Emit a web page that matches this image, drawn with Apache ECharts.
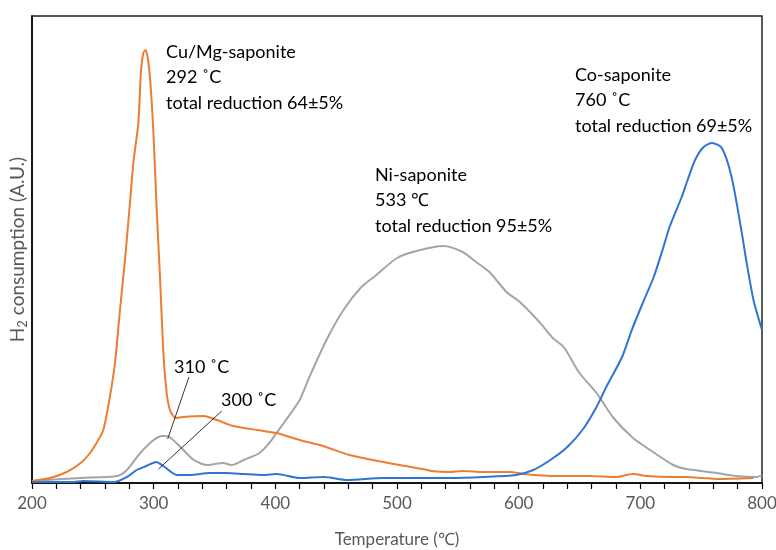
<!DOCTYPE html>
<html>
<head>
<meta charset="utf-8">
<script src="https://cdn.jsdelivr.net/npm/echarts@6/dist/echarts.min.js"></script>
<style>html,body{margin:0;padding:0;background:#fff}#c{width:776px;height:550px}</style>
</head>
<body>
<div id="c"></div>
<script>
// X-axis tick labels
const xTicks = [200, 300, 400, 500, 600, 700, 800];

// Cu/Mg-saponite (orange)
const cuTemp = [200, 215, 228.5, 240, 247.7, 253, 258.6, 264, 268.2, 272.3, 276.4, 280.5, 283.3, 287.4, 289.5, 291.5, 293.4, 296.4, 299.7, 302.5, 305.2, 308, 310.7, 313.4, 318, 324, 341, 352, 365.5, 385, 401, 420, 439, 461, 480, 502, 521, 528, 543, 554, 571, 593, 604, 631, 658, 680, 694, 705, 727, 738, 751, 763, 793];
const cuVal  = [2, 5, 11, 20, 30, 40, 53, 86, 120, 173, 223, 280, 320, 360, 410, 430, 433, 413, 353, 273, 206, 130, 90, 73, 65, 66, 67, 63, 57, 53, 50, 43, 37, 28, 23, 18, 14, 12, 11, 12, 11, 11, 9, 7, 7, 6, 9, 7, 6, 6, 5, 4, 5];

// Ni-saponite (gray)
const niTemp = [200, 240, 270, 278, 289, 300, 307, 313, 322, 333, 344, 357, 364, 374, 387, 395, 401, 407, 420, 428, 442, 456, 470, 483, 500, 516, 538, 554, 565, 576, 590, 601, 617, 628, 637, 650, 664, 678, 694, 708, 727, 738, 763, 779, 796, 800];
const niVal  = [2, 5, 7, 13, 30, 43, 47, 46, 36, 23, 18, 20, 18, 23, 30, 40, 50, 60, 83, 106, 143, 173, 195, 208, 225, 232, 237, 231, 221, 211, 191, 181, 161, 145, 136, 110, 90, 65, 45, 33, 18, 14, 10, 7, 6, 8];

// Co-saponite (blue)
const coTemp = [200, 234, 242, 268, 278, 286, 294, 302, 309, 319, 330, 346, 360, 374, 390, 401, 420, 440, 459, 489, 543, 571, 598, 612, 626, 640, 653, 664, 672, 685, 693, 702, 711, 719, 724, 734, 738, 745, 752, 759, 767, 775, 783, 787, 793, 800];
const coVal  = [1, 1, 2, 1, 6, 13, 17, 21, 16, 8, 8, 10, 10, 9, 8, 9, 5, 6, 3, 5, 5, 6, 8, 13, 23, 36, 54, 76, 96, 126, 153, 180, 206, 236, 256, 286, 300, 323, 336, 340, 335, 306, 253, 223, 183, 153];

// Annotation texts
const cuLabel = ['Cu/Mg-saponite', '292 ˚C', 'total reduction 64±5%'];
const niLabel = ['Ni-saponite', '533 ℃', 'total reduction 95±5%'];
const coLabel = ['Co-saponite', '760 ˚C', 'total reduction 69±5%'];
const peak310 = '310 ˚C';
const peak300 = '300 ˚C';

const zip = (a, b) => a.map((t, i) => [t, b[i]]);
const chart = echarts.init(document.getElementById('c'), null, {renderer: 'canvas'});

const FONT = 'Lato, "Open Sans", sans-serif';
function textBlock(lines, x, y0, step) {
  return lines.map((s, i) => ({
    type: 'text', silent: true, z: 10,
    style: {text: s, x: x, y: y0 + i * step, fill: '#000', font: '18px ' + FONT, verticalAlign: 'middle', align: 'left'}
  }));
}

const lineCommon = {type: 'line', showSymbol: false, smooth: 0.25, silent: true};

chart.setOption({
  animation: false,
  grid: {left: 32, right: 14, top: 16, bottom: 67, outerBoundsMode: 'none', containLabel: false, show: true, borderColor: '#222', borderWidth: 1.5, backgroundColor: 'transparent'},
  xAxis: {
    type: 'value', min: 200, max: 800, interval: 100,
    name: 'Temperature (℃)', nameLocation: 'middle', nameGap: 48,
    nameTextStyle: {color: '#595959', fontSize: 17, fontFamily: FONT},
    axisLine: {show: true, lineStyle: {color: '#000', width: 1.5}},
    axisTick: {show: true, length: 6, lineStyle: {color: '#000', width: 1.2}},
    minorTick: {show: true, splitNumber: 5, length: 6, lineStyle: {color: '#000', width: 1.2}},
    axisLabel: {color: '#595959', fontSize: 17, fontFamily: FONT, margin: 12,
      formatter: v => xTicks.includes(v) ? String(v) : ''},
    splitLine: {show: false}
  },
  yAxis: {
    type: 'value', min: 0, max: 467,
    name: '{a|H}{s|2}{a| consumption (A.U.)}', nameLocation: 'middle', nameGap: 3,
    nameTextStyle: {color: '#595959', fontSize: 19, fontFamily: FONT,
      rich: {a: {color: '#595959', fontSize: 19, fontFamily: FONT}, s: {color: '#595959', fontSize: 13, fontFamily: FONT, verticalAlign: 'bottom', padding: [9, 0, 0, 0]}}},
    axisLine: {show: true, lineStyle: {color: '#000', width: 1.5}},
    axisTick: {show: false}, axisLabel: {show: false}, splitLine: {show: false}
  },
  series: [
    Object.assign({}, lineCommon, {name: 'Ni-saponite', data: zip(niTemp, niVal), lineStyle: {color: '#A5A5A5', width: 2}, itemStyle: {color: '#A5A5A5'}, z: 2,
      markLine: {silent: true, symbol: 'none', label: {show: false}, lineStyle: {color: '#333', width: 1, type: 'solid'},
        data: [[{coord: [329, 106]}, {coord: [311.5, 44]}], [{coord: [356, 72]}, {coord: [304, 14]}]]}}),
    Object.assign({}, lineCommon, {name: 'Cu/Mg-saponite', data: zip(cuTemp, cuVal), lineStyle: {color: '#ED7D31', width: 2}, itemStyle: {color: '#ED7D31'}, z: 3}),
    Object.assign({}, lineCommon, {name: 'Co-saponite', data: zip(coTemp, coVal), lineStyle: {color: '#2F75D3', width: 2}, itemStyle: {color: '#2F75D3'}, z: 4})
  ],
  graphic: [].concat(
    textBlock(cuLabel, 166, 52, 25.5),
    textBlock(niLabel, 375, 175, 25.5),
    textBlock(coLabel, 575, 75, 25.5),
    textBlock([peak310], 174, 367, 0),
    textBlock([peak300], 221, 400, 0)
  )
});
</script>
</body>
</html>
